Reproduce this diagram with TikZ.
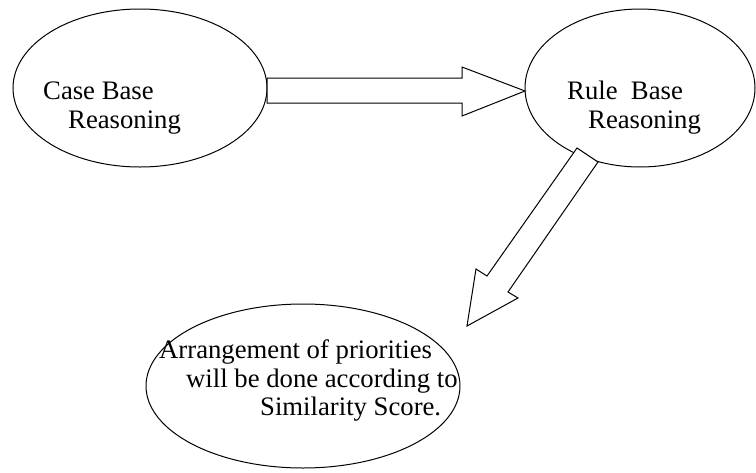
\documentclass[tikz,border=0pt]{standalone}
\usepackage{fontspec}
\setmainfont{Liberation Serif}
\usetikzlibrary{shapes.geometric}
\begin{document}
\begin{tikzpicture}[x=1pt,y=-1pt,
  oval/.style={draw=black, line width=1pt, ellipse, inner sep=0pt, outer sep=0pt},
  blockarrow/.style={draw=black, fill=white, line width=1pt, line join=miter},
  txt/.style={anchor=base west, inner sep=0pt, font=\fontsize{26.7}{30}\selectfont}]
\useasboundingbox (0,0) rectangle (756,472);
% ellipses
\node[oval, minimum width=254pt, minimum height=158pt] (cbr) at (140,88) {};
\node[oval, minimum width=230pt, minimum height=158pt] (rbr) at (640,88) {};
\node[oval, minimum width=314pt, minimum height=164pt] (arr) at (303,386) {};
% block arrows
\draw[blockarrow] (267,78) -- (462,78) -- (462,67) -- (525,91) -- (462,116) -- (462,103) -- (267,103) -- cycle;
\draw[blockarrow] (577,148) -- (598,162) -- (508,292) -- (518,298) -- (467,326) -- (476,269) -- (487,276) -- cycle;
% texts
\node[txt] (t1) at (43,99) {Case Base};
\node[txt] (t2) at (68,128) {Reasoning};
\node[txt] (t3) at (567,99) {Rule\ \ Base};
\node[txt] (t4) at (588,128) {Reasoning};
\node[txt] (t5) at (159,358) {Arrangement of priorities};
\node[txt] (t6) at (186,387) {will be done according to};
\node[txt] (t7) at (260,415) {Similarity Score.};
\end{tikzpicture}
\end{document}
